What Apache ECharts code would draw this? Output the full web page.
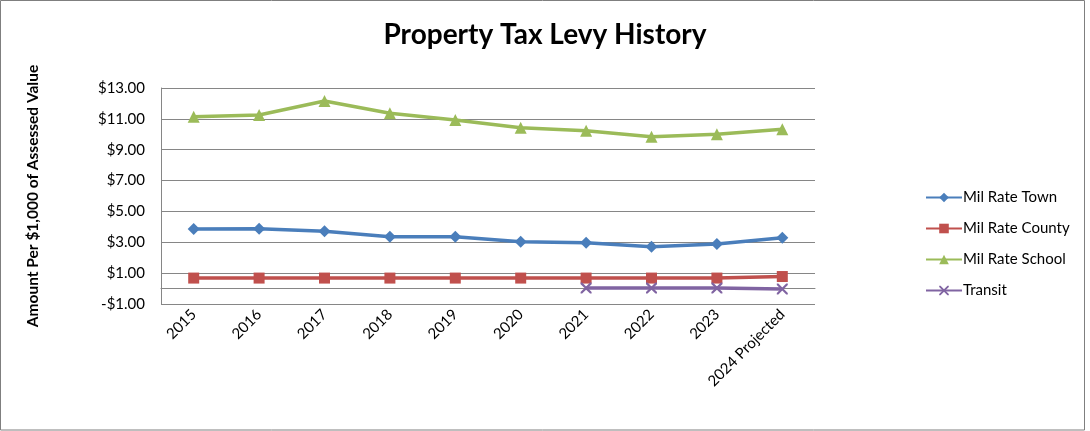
<!DOCTYPE html>
<html>
<head>
<meta charset="utf-8">
<script src="https://cdn.jsdelivr.net/npm/echarts@6/dist/echarts.min.js"></script>
<style>
  html, body { margin: 0; padding: 0; background: #fff; }
  #chart { width: 1090px; height: 431px; }
</style>
</head>
<body>
<div id="chart"></div>
<script>
// Levy years shown along the bottom axis
const years = ['2015', '2016', '2017', '2018', '2019', '2020', '2021', '2022', '2023', '2024 Projected'];

// Mil rates per $1,000 of assessed value
const milRateTown   = [3.86, 3.87, 3.71, 3.36, 3.36, 3.04, 2.97, 2.71, 2.89, 3.30];
const milRateCounty = [0.68, 0.68, 0.68, 0.68, 0.68, 0.68, 0.68, 0.68, 0.68, 0.78];
const milRateSchool = [11.14, 11.25, 12.16, 11.36, 10.93, 10.43, 10.23, 9.84, 10.00, 10.32];
const transit       = [null, null, null, null, null, null, 0.03, 0.03, 0.03, -0.03];

const FONT = 'Lato, "Open Sans", sans-serif';
const crossSymbol = 'path://M0 0L1.4 0L5 3.6L8.6 0L10 0L10 1.4L6.4 5L10 8.6L10 10L8.6 10L5 6.4L1.4 10L0 10L0 8.6L3.6 5L0 1.4Z';

function lineSeries(name, data, color, symbol, size) {
  return {
    name: name,
    type: 'line',
    data: data,
    xAxisIndex: 0,
    symbol: symbol,
    symbolSize: size,
    showSymbol: true,
    connectNulls: false,
    lineStyle: { color: color, width: 3.5 },
    itemStyle: { color: color, borderWidth: 0 },
    emphasis: { disabled: true },
    z: 3
  };
}

const chart = echarts.init(document.getElementById('chart'), null, { renderer: 'canvas' });

chart.setOption({
  animation: false,
  backgroundColor: '#ffffff',
  title: {
    text: 'Property Tax Levy History',
    left: 'center',
    top: 16,
    textStyle: { fontFamily: FONT, fontSize: 28, fontWeight: 'bold', color: '#000' }
  },
  graphic: [{
    type: 'rect',
    shape: { x: 0.5, y: 0.5, width: 1084, height: 429.5 },
    style: { fill: 'none', stroke: '#7f7f7f', lineWidth: 1 },
    silent: true,
    z: -1
  }],
  legend: {
    orient: 'vertical',
    left: 920,
    top: 185,
    itemWidth: 36,
    itemHeight: 12,
    itemGap: 16,
    textStyle: { fontFamily: FONT, fontSize: 15, color: '#000', padding: [0, 0, 0, -4] },
    data: ['Mil Rate Town', 'Mil Rate County', 'Mil Rate School', 'Transit']
  },
  grid: { left: 161, right: 275, top: 88, bottom: 127, containLabel: false },
  xAxis: [{
    type: 'category',
    data: years,
    boundaryGap: true,
    position: 'bottom',
    axisLine: { show: false, onZero: false },
    axisTick: { show: false },
    axisLabel: {
      rotate: 45,
      interval: 0,
      margin: 8,
      fontFamily: FONT,
      fontSize: 15,
      color: '#000'
    },
    splitLine: { show: false }
  }, {
    // horizontal axis line drawn through zero
    type: 'category',
    data: years,
    boundaryGap: true,
    position: 'bottom',
    axisLine: { show: true, onZero: true, lineStyle: { color: '#868686', width: 1 } },
    axisTick: { show: false },
    axisLabel: { show: false },
    splitLine: { show: false }
  }],
  yAxis: {
    type: 'value',
    min: -1,
    max: 13,
    interval: 2,
    axisLine: { show: true, lineStyle: { color: '#868686', width: 1 } },
    axisTick: { show: false },
    axisLabel: {
      margin: 16,
      fontFamily: FONT,
      fontSize: 15,
      color: '#000',
      formatter: v => (v < 0 ? '-$' : '$') + Math.abs(v).toFixed(2)
    },
    splitLine: { show: true, lineStyle: { color: '#868686', width: 1 } },
    name: 'Amount Per $1,000 of Assessed Value',
    nameLocation: 'middle',
    nameGap: 120,
    nameRotate: 90,
    nameTextStyle: { fontFamily: FONT, fontSize: 15.5, fontWeight: 'bold', color: '#000' }
  },
  series: [
    lineSeries('Mil Rate Town', milRateTown, '#4a7ebb', 'diamond', 12),
    lineSeries('Mil Rate County', milRateCounty, '#c0504d', 'rect', 11),
    lineSeries('Mil Rate School', milRateSchool, '#9bbb59', 'triangle', 12),
    lineSeries('Transit', transit, '#8064a2', crossSymbol, 11)
  ]
});
</script>
</body>
</html>
